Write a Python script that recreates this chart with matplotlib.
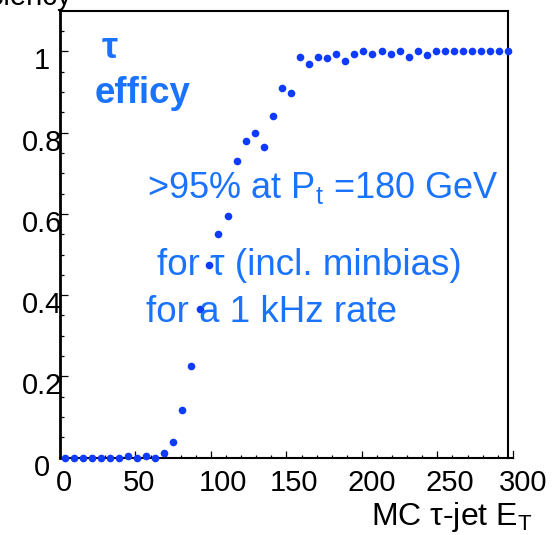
import numpy as np
import matplotlib
matplotlib.use("Agg")
import matplotlib.pyplot as plt
from matplotlib.transforms import ScaledTranslation, blended_transform_factory

plt.rcParams['font.family'] = ['Liberation Sans', 'DejaVu Sans']
plt.rcParams['mathtext.fontset'] = 'custom'
plt.rcParams['mathtext.rm'] = 'Liberation Sans'
plt.rcParams['mathtext.it'] = 'Liberation Sans:italic'
plt.rcParams['mathtext.bf'] = 'Liberation Sans:bold'

# tau trigger efficiency vs. MC tau-jet E_T (6 GeV bins, centres 3..297)
bin_width = 6
et_centres = np.arange(50) * bin_width + bin_width / 2
efficiency = [
    0.0, 0.0, 0.0, 0.0, 0.0, 0.0, 0.0, 0.004, 0.0, 0.004,
    0.0, 0.011, 0.039, 0.117, 0.225, 0.365, 0.473, 0.550, 0.596, 0.730,
    0.780, 0.799, 0.765, 0.841, 0.910, 0.897, 0.985, 0.969, 0.986, 0.984,
    0.994, 0.976, 0.994, 1.0, 0.994, 1.0, 0.994, 1.0, 0.986, 1.0,
    0.990, 1.0, 1.0, 1.0, 1.0, 1.0, 1.0, 1.0, 1.0, 1.0,
]

x_ticks = [0, 50, 100, 150, 200, 250, 300]
x_tick_labels = ["0", "50", "100", "150", "200", "250", "300"]
y_ticks = [0, 0.2, 0.4, 0.6, 0.8, 1.0]
y_tick_labels = ["0", "0.2", "0.4", "0.6", "0.8", "1"]

W, H = 556, 535
fig = plt.figure(figsize=(W / 100, H / 100), dpi=100)
left, right, top, bottom = 60, 508.3, 10.7, 457.7
ax = fig.add_axes([left / W, 1 - bottom / H, (right - left) / W, (bottom - top) / H])

marker_blue = '#0f3bff'
text_blue = '#1a73ff'

ax.plot(et_centres, efficiency, 'o', color=marker_blue, markersize=5.5,
        markeredgewidth=0, clip_on=False, zorder=5)

ax.set_xlim(0, 297)
ax.set_ylim(0, 1.1)

for side in ['top', 'right', 'bottom']:
    ax.spines[side].set_linewidth(1.5)
ax.spines['left'].set_linewidth(2.0)

ax.set_xticks([t for t in x_ticks if t <= 297])
ax.set_xticks(np.arange(0, 297, 10), minor=True)
ax.set_yticks(y_ticks)
ax.set_yticks(np.arange(0, 1.1, 0.05), minor=True)
ax.tick_params(which='both', direction='in', top=False, right=False,
               labelbottom=False, labelleft=False, width=0.9)
ax.tick_params(axis='y', which='major', length=6)
ax.tick_params(axis='y', which='minor', length=2.8)
ax.tick_params(axis='x', which='major', length=5)
ax.tick_params(axis='x', which='minor', length=2.5)

# axis line and tick at 300 running just past the frame
xb = blended_transform_factory(ax.transData, ax.transAxes)
ax.add_line(plt.Line2D([297, 300], [0, 0], color='black', lw=1.5,
                       transform=xb, clip_on=False))
ax.add_line(plt.Line2D([300, 300], [0, 0.016], color='black', lw=0.9,
                       transform=xb, clip_on=False))

# tick labels
tick_fs = 21
x_offsets_px = [4, 3, 12, 8, 10, 12, 10]
for val, lab, dx in zip(x_ticks, x_tick_labels, x_offsets_px):
    tr = xb + ScaledTranslation(dx / 100, -25 / 100, fig.dpi_scale_trans)
    ax.text(val, 0, lab, transform=tr, ha='center', va='center',
            fontsize=tick_fs, color='black', clip_on=False)

yb = blended_transform_factory(ax.transAxes, ax.transData)
for val, lab in zip(y_ticks, y_tick_labels):
    tr = yb + ScaledTranslation(-18 / 100, -10 / 100, fig.dpi_scale_trans)
    ax.text(0, val, lab, transform=tr, ha='center', va='center',
            fontsize=tick_fs, color='black', clip_on=False)


def fx(px):
    return px / W


def fy(py):
    return 1 - py / H


# axis titles
fig.text(fx(72), fy(5), "Efficiency", ha='right', va='baseline',
         fontsize=tick_fs, color='black')
fig.text(fx(532), fy(525), r"MC $\mathrm{\tau}$-jet E$_\mathrm{T}$",
         ha='right', va='baseline', fontsize=23, color='black')

# annotations
fig.text(fx(102), fy(58), "τ", ha='left', va='baseline', fontsize=26,
         fontweight='bold', color=text_blue)
fig.text(fx(95), fy(103), "efficy", ha='left', va='baseline', fontsize=26.5,
         fontweight='bold', color=text_blue)
fig.text(fx(147), fy(198), r">95% at P$_\mathrm{t}$ =180 GeV", ha='left',
         va='baseline', fontsize=26, color=text_blue)
fig.text(fx(157), fy(275), "for τ (incl. minbias)", ha='left',
         va='baseline', fontsize=26.5, color=text_blue)
fig.text(fx(146), fy(322), "for a 1 kHz rate", ha='left',
         va='baseline', fontsize=26.5, color=text_blue)

fig.savefig("out.png", dpi=100)
